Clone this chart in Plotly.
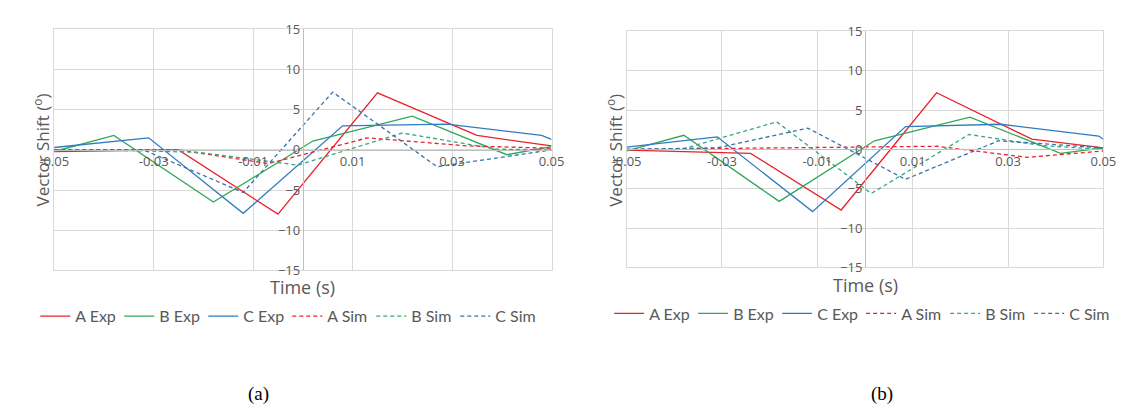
import plotly.graph_objects as go

# ---------------- data: panel (a) ----------------
a_A_exp_t = [-0.05, -0.025, -0.005, 0.015, 0.035, 0.05]
a_A_exp_v = [-0.2, 0.0, -8.0, 7.1, 1.8, 0.5]
a_B_exp_t = [-0.05, -0.038, -0.018, 0.002, 0.022, 0.041, 0.05]
a_B_exp_v = [-0.2, 1.8, -6.5, 1.1, 4.2, -0.6, 0.4]
a_C_exp_t = [-0.05, -0.031, -0.012, 0.008, 0.029, 0.048, 0.05]
a_C_exp_v = [0.3, 1.5, -7.9, 3.0, 3.2, 1.8, 1.3]
a_A_sim_t = [-0.05, -0.025, -0.007, 0.013, 0.033, 0.05]
a_A_sim_v = [0.0, 0.0, -1.7, 1.5, 0.5, 0.2]
a_B_sim_t = [-0.05, -0.041, -0.021, -0.001, 0.02, 0.039, 0.05]
a_B_sim_v = [0.0, 0.0, -0.3, -1.9, 2.1, 0.1, 0.0]
a_C_sim_t = [-0.05, -0.032, -0.012, 0.006, 0.027, 0.046, 0.05]
a_C_sim_v = [0.0, 0.0, -5.3, 7.2, -2.1, -0.3, 0.0]

# ---------------- data: panel (b) ----------------
b_A_exp_t = [-0.05, -0.024, -0.005, 0.015, 0.035, 0.05]
b_A_exp_v = [-0.1, -0.5, -7.7, 7.2, 1.3, 0.2]
b_B_exp_t = [-0.05, -0.038, -0.018, 0.002, 0.022, 0.041, 0.05]
b_B_exp_v = [-0.2, 1.8, -6.6, 1.1, 4.1, -0.5, 0.2]
b_C_exp_t = [-0.05, -0.031, -0.011, 0.0085, 0.0285, 0.049, 0.05]
b_C_exp_v = [0.3, 1.6, -7.9, 2.9, 3.2, 1.7, 1.3]
b_A_sim_t = [-0.05, -0.01, 0.015, 0.034, 0.043, 0.05]
b_A_sim_v = [0.0, 0.3, 0.4, -1.0, -0.6, -0.2]
b_B_sim_t = [-0.05, -0.038, -0.0185, 0.0013, 0.0218, 0.037, 0.05]
b_B_sim_v = [0.0, 0.1, 3.5, -5.6, 1.9, 0.5, 0.0]
b_C_sim_t = [-0.05, -0.031, -0.012, 0.0085, 0.028, 0.048, 0.05]
b_C_sim_v = [0.0, 0.2, 2.7, -3.8, 1.1, 0.3, 0.2]

series_names = ["A Exp", "B Exp", "C Exp", "A Sim", "B Sim", "C Sim"]
x_ticks = [-0.05, -0.03, -0.01, 0.01, 0.03, 0.05]
x_tick_labels = ["-0.05", "-0.03", "-0.01", "0.01", "0.03", "0.05"]
y_ticks = [-15, -10, -5, 0, 5, 10, 15]

colors = ["#E8222E", "#2EA85A", "#2F7CC0", "#E8222E", "#3AA57E", "#3673A8"]
dashes = ["solid", "solid", "solid", "4px,3px", "4px,3px", "4px,3px"]

panel_a = [(a_A_exp_t, a_A_exp_v), (a_B_exp_t, a_B_exp_v), (a_C_exp_t, a_C_exp_v),
           (a_A_sim_t, a_A_sim_v), (a_B_sim_t, a_B_sim_v), (a_C_sim_t, a_C_sim_v)]
panel_b = [(b_A_exp_t, b_A_exp_v), (b_B_exp_t, b_B_exp_v), (b_C_exp_t, b_C_exp_v),
           (b_A_sim_t, b_A_sim_v), (b_B_sim_t, b_B_sim_v), (b_C_sim_t, b_C_sim_v)]

W, H = 1126, 410
fig = go.Figure()

# invisible traces that create the frame subplots (x3/y3, x4/y4)
fig.add_trace(go.Scatter(x=[], y=[], xaxis="x3", yaxis="y3", showlegend=False, hoverinfo="skip"))
fig.add_trace(go.Scatter(x=[], y=[], xaxis="x4", yaxis="y4", showlegend=False, hoverinfo="skip"))

for i, (t, v) in enumerate(panel_a):
    fig.add_trace(go.Scatter(x=t, y=v, mode="lines", name=series_names[i],
                             line=dict(color=colors[i], width=1.3, dash=dashes[i]),
                             xaxis="x", yaxis="y", legend="legend"))
for i, (t, v) in enumerate(panel_b):
    fig.add_trace(go.Scatter(x=t, y=v, mode="lines", name=series_names[i],
                             line=dict(color=colors[i], width=1.3, dash=dashes[i]),
                             xaxis="x2", yaxis="y2", legend="legend2"))

gray = "#595959"
grid = "#D9D9D9"
axline = "#BFBFBF"
font_fam = "Open Sans, Noto Sans, sans-serif"

def px_x(p):
    return p / W

def px_y(p):
    return 1 - p / H

# panel geometry (pixels)
A_L, A_R, A_T, A_B = 32, 542, 13, 265
B_L, B_R, B_T, B_B = 619, 1108, 15, 262

def xaxis(dom, ypos):
    return dict(domain=dom, range=[-0.05, 0.05], tickvals=x_ticks, ticktext=x_tick_labels,
                showgrid=True, gridcolor=grid, gridwidth=1, zeroline=False,
                showline=True, linecolor=axline, linewidth=1,
                anchor="free", position=ypos, ticks="",
                tickfont=dict(size=13, color=gray, family=font_fam))

def yaxis(dom, xpos):
    return dict(domain=dom, range=[-15, 15], tickvals=y_ticks,
                showgrid=True, gridcolor=grid, gridwidth=1, zeroline=False,
                showline=True, linecolor=axline, linewidth=1,
                anchor="free", position=xpos, ticks="",
                tickfont=dict(size=13, color=gray, family=font_fam))

def frame_x(dom, over, anchor):
    return dict(domain=dom, range=[-0.05, 0.05], overlaying=over, anchor=anchor,
                showline=True, mirror=True, linecolor=grid, linewidth=1,
                showgrid=False, zeroline=False, showticklabels=False, ticks="")

def frame_y(dom, over, anchor):
    return dict(domain=dom, range=[-15, 15], overlaying=over, anchor=anchor,
                showline=True, mirror=True, linecolor=grid, linewidth=1,
                showgrid=False, zeroline=False, showticklabels=False, ticks="")

a_xdom = [px_x(A_L), px_x(A_R)]
b_xdom = [px_x(B_L), px_x(B_R)]
a_ydom = [px_y(A_B), px_y(A_T)]
b_ydom = [px_y(B_B), px_y(B_T)]

legend_font = dict(size=16, color=gray, family="Lato, Open Sans, sans-serif")

fig.update_layout(
    width=W, height=H,
    margin=dict(l=0, r=0, t=0, b=0),
    paper_bgcolor="white", plot_bgcolor="white",
    font=dict(family=font_fam, color=gray),
    xaxis=xaxis(a_xdom, sum(a_ydom) / 2),
    yaxis=yaxis(a_ydom, sum(a_xdom) / 2),
    xaxis2=xaxis(b_xdom, sum(b_ydom) / 2),
    yaxis2=yaxis(b_ydom, sum(b_xdom) / 2),
    xaxis3=frame_x(a_xdom, "x", "y3"),
    yaxis3=frame_y(a_ydom, "y", "x3"),
    xaxis4=frame_x(b_xdom, "x2", "y4"),
    yaxis4=frame_y(b_ydom, "y2", "x4"),
    legend=dict(orientation="h", x=px_x((A_L + A_R) / 2 - 16), xanchor="center",
                y=px_y(313), yanchor="middle", font=legend_font,
                itemwidth=30, entrywidth=39, bgcolor="rgba(0,0,0,0)"),
    legend2=dict(orientation="h", x=px_x((B_L + B_R) / 2 - 4), xanchor="center",
                 y=px_y(310), yanchor="middle", font=legend_font,
                 itemwidth=30, entrywidth=39, bgcolor="rgba(0,0,0,0)"),
    showlegend=True,
)

annots = [
    dict(text="Vector Shift (<sup>o</sup>)", x=px_x(19), y=px_y(139), textangle=-90,
         font=dict(size=17, color=gray, family=font_fam)),
    dict(text="Vector Shift (<sup>o</sup>)", x=px_x(607), y=px_y(139), textangle=-90,
         font=dict(size=17, color=gray, family=font_fam)),
    dict(text="Time (s)", x=px_x((A_L + A_R) / 2), y=px_y(282),
         font=dict(size=18, color=gray, family=font_fam)),
    dict(text="Time (s)", x=px_x((B_L + B_R) / 2), y=px_y(280),
         font=dict(size=18, color=gray, family=font_fam)),
    dict(text="(a)", x=px_x(241), y=px_y(394),
         font=dict(size=19, color="black", family="Liberation Serif, Times New Roman, serif")),
    dict(text="(b)", x=px_x(881), y=px_y(394),
         font=dict(size=19, color="black", family="Liberation Serif, Times New Roman, serif")),
]
for a in annots:
    a.update(xref="paper", yref="paper", showarrow=False, xanchor="center", yanchor="middle")
fig.update_layout(annotations=annots)

fig.write_html("out.html")
